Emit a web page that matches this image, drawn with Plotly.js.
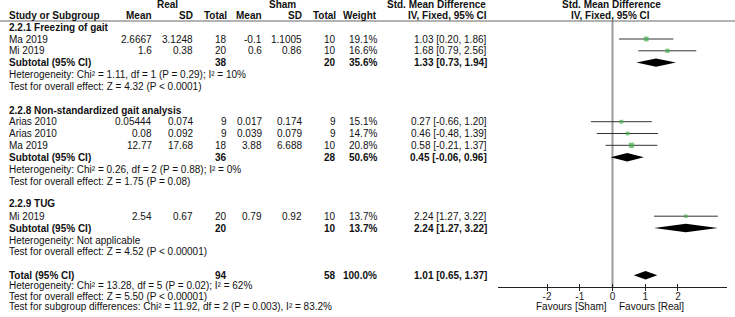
<!DOCTYPE html>
<html>
<head>
<meta charset="utf-8">
<script src="https://cdn.plot.ly/plotly-3.0.1.min.js"></script>
<style>html,body{margin:0;padding:0;background:#fff;}#chart{width:735px;height:317px;}</style>
</head>
<body>
<div id="chart"></div>
<script>
// ---------- DATA ----------
const groupNames = ["2.2.1 Freezing of gait", "2.2.8 Non-standardized gait analysis", "2.2.9 TUG"];
const studyNames = ["Ma 2019", "Mi 2019", "Arias 2010", "Arias 2010", "Ma 2019", "Mi 2019"];
const studyGroup = [0, 0, 1, 1, 1, 2];
const realMean = ["2.6667", "1.6", "0.05444", "0.08", "12.77", "2.54"];
const realSD = ["3.1248", "0.38", "0.074", "0.092", "17.68", "0.67"];
const realTotal = [18, 20, 9, 9, 18, 20];
const shamMean = ["-0.1", "0.6", "0.017", "0.039", "3.88", "0.79"];
const shamSD = ["1.1005", "0.86", "0.174", "0.079", "6.688", "0.92"];
const shamTotal = [10, 10, 9, 9, 10, 10];
const studyWeight = [19.1, 16.6, 15.1, 14.7, 20.8, 13.7];
const studySMD = [1.03, 1.68, 0.27, 0.46, 0.58, 2.24];
const studyLo = [0.20, 0.79, -0.66, -0.48, -0.21, 1.27];
const studyHi = [1.86, 2.56, 1.20, 1.39, 1.37, 3.22];

const subRealTotal = [38, 36, 20];
const subShamTotal = [20, 28, 10];
const subWeight = [35.6, 50.6, 13.7];
const subSMD = [1.33, 0.45, 2.24];
const subLo = [0.73, -0.06, 1.27];
const subHi = [1.94, 0.96, 3.22];
const subHet = [
  "Heterogeneity: Chi² = 1.11, df = 1 (P = 0.29); I² = 10%",
  "Heterogeneity: Chi² = 0.26, df = 2 (P = 0.88); I² = 0%",
  "Heterogeneity: Not applicable"
];
const subTest = [
  "Test for overall effect: Z = 4.32 (P < 0.0001)",
  "Test for overall effect: Z = 1.75 (P = 0.08)",
  "Test for overall effect: Z = 4.52 (P < 0.00001)"
];

const totalReal = 94;
const totalSham = 58;
const totalWeight = 100.0;
const totalSMD = 1.01;
const totalLo = 0.65;
const totalHi = 1.37;
const totalNotes = [
  "Heterogeneity: Chi² = 13.28, df = 5 (P = 0.02); I² = 62%",
  "Test for overall effect: Z = 5.50 (P < 0.00001)",
  "Test for subgroup differences: Chi² = 11.92, df = 2 (P = 0.003), I² = 83.2%"
];

const axisTicks = [-2, -1, 0, 1, 2];
const axisTickText = ["-2", "-1", "0", "1", "2"];
const favoursLeft = "Favours [Sham]";
const favoursRight = "Favours [Real]";

// ---------- LAYOUT (pixel rows / columns) ----------
const rowY = [27.2, 39, 50.8, 62.6, 74.5, 86, 98, 110, 121.7, 133.5, 145.3, 157.2, 169.5, 181, 192,
              203, 216.2, 228, 240, 251.7, 263, 275.3, 285.5, 296, 306.5];
const col = {name: 8, rMean: 153, rSD: 194, rTot: 228, sMean: 263, sSD: 303, sTot: 337, wt: 378, ci: 488};
const halfDiamond = 4.2;

const annotations = [];
function ann(text, x, y, anchor, bold, extra) {
  const a = {text: bold ? "<b>" + text + "</b>" : text, x: x, y: y, xref: "x", yref: "y",
             xanchor: anchor, yanchor: "middle", showarrow: false, borderpad: 0};
  Object.assign(a, extra || {});
  annotations.push(a);
}
const fmtCI = (e, l, h) => e.toFixed(2) + " [" + l.toFixed(2) + ", " + h.toFixed(2) + "]";

// headers
ann("Real", 167, 4, "center", true);
ann("Sham", 282, 4, "center", true);
ann("Std. Mean Difference", 487, 4, "right", true);
ann("Std. Mean Difference", 611.5, 4, "center", true);
ann("Study or Subgroup", col.name, 15, "left", true);
ann("Mean", col.rMean, 15, "right", true);
ann("SD", col.rSD, 15, "right", true);
ann("Total", col.rTot, 15, "right", true);
ann("Mean", col.sMean, 15, "right", true);
ann("SD", col.sSD, 15, "right", true);
ann("Total", col.sTot, 15, "right", true);
ann("Weight", col.wt, 15, "right", true);
ann("IV, Fixed, 95% CI", col.ci, 15, "right", true);
ann("IV, Fixed, 95% CI", 610, 15, "center", true);

const traces = [];
let row = 0;
const ciX = [], ciY = [], sqX = [], sqY = [], sqS = [];
groupNames.forEach((g, gi) => {
  ann(g, col.name, rowY[row], "left", true);
  row++;
  studyNames.forEach((s, i) => {
    if (studyGroup[i] !== gi) return;
    const y = rowY[row];
    ann(s, col.name, y, "left");
    ann(realMean[i], col.rMean, y, "right");
    ann(realSD[i], col.rSD, y, "right");
    ann(String(realTotal[i]), col.rTot, y, "right");
    ann(shamMean[i], col.sMean, y, "right");
    ann(shamSD[i], col.sSD, y, "right");
    ann(String(shamTotal[i]), col.sTot, y, "right");
    ann(studyWeight[i].toFixed(1) + "%", col.wt, y, "right");
    ann(fmtCI(studySMD[i], studyLo[i], studyHi[i]), col.ci, y, "right");
    ciX.push(studyLo[i], studyHi[i], null);
    ciY.push(y, y, null);
    sqX.push(studySMD[i]); sqY.push(y); sqS.push(studyWeight[i] / 4);
    row++;
  });
  const y = rowY[row];
  ann("Subtotal (95% CI)", col.name, y, "left", true);
  ann(String(subRealTotal[gi]), col.rTot, y, "right", true);
  ann(String(subShamTotal[gi]), col.sTot, y, "right", true);
  ann(subWeight[gi].toFixed(1) + "%", col.wt, y, "right", true);
  ann(fmtCI(subSMD[gi], subLo[gi], subHi[gi]), col.ci, y, "right", true);
  traces.push({type: "scatter", mode: "lines", xaxis: "x2", yaxis: "y",
    x: [subLo[gi], subSMD[gi], subHi[gi], subSMD[gi], subLo[gi]],
    y: [y, y - halfDiamond, y, y + halfDiamond, y],
    fill: "toself", fillcolor: "#000", line: {width: 0, color: "#000"}, hoverinfo: "skip"});
  row++;
  ann(subHet[gi], col.name, rowY[row], "left"); row++;
  ann(subTest[gi], col.name, rowY[row], "left"); row++;
  row++; // blank
});
// total
{
  const y = rowY[row];
  ann("Total (95% CI)", col.name, y, "left", true);
  ann(String(totalReal), col.rTot, y, "right", true);
  ann(String(totalSham), col.sTot, y, "right", true);
  ann(totalWeight.toFixed(1) + "%", col.wt, y, "right", true);
  ann(fmtCI(totalSMD, totalLo, totalHi), col.ci, y, "right", true);
  traces.push({type: "scatter", mode: "lines", xaxis: "x2", yaxis: "y",
    x: [totalLo, totalSMD, totalHi, totalSMD, totalLo],
    y: [y, y - halfDiamond, y, y + halfDiamond, y],
    fill: "toself", fillcolor: "#000", line: {width: 0, color: "#000"}, hoverinfo: "skip"});
  row++;
  totalNotes.forEach(t => { ann(t, col.name, rowY[row], "left"); row++; });
}

traces.unshift({type: "scatter", mode: "lines", xaxis: "x2", yaxis: "y", x: ciX, y: ciY,
  line: {color: "#333", width: 1}, hoverinfo: "skip"});
traces.push({type: "scatter", mode: "markers", xaxis: "x2", yaxis: "y", x: sqX, y: sqY,
  marker: {symbol: "square", size: sqS, color: "#3fae49", line: {width: 0}}, hoverinfo: "skip"});
// dummy for the downward half of the crossing ticks
traces.push({type: "scatter", mode: "markers", xaxis: "x3", yaxis: "y", x: [0], y: [-100],
  marker: {size: 1, opacity: 0}, hoverinfo: "skip"});

// favours labels (under the axis, on each side of zero)
annotations.push({text: favoursLeft, x: 0, y: 306.5, xref: "x2", yref: "y", xanchor: "right",
  yanchor: "middle", xshift: -5, showarrow: false, borderpad: 0});
annotations.push({text: favoursRight, x: 0, y: 306.5, xref: "x2", yref: "y", xanchor: "left",
  yanchor: "middle", xshift: 5, showarrow: false, borderpad: 0});

const axPos = 1 - 287 / 317;
const fDomain = [498 / 735, 727 / 735];
const layout = {
  width: 735, height: 317,
  margin: {l: 0, r: 0, t: 0, b: 0, pad: 0},
  paper_bgcolor: "#fff", plot_bgcolor: "rgba(0,0,0,0)",
  showlegend: false,
  font: {family: "Liberation Sans, Arial, sans-serif", size: 10, color: "#111"},
  xaxis: {range: [0, 735], domain: [0, 1], visible: false, fixedrange: true},
  yaxis: {range: [317, 0], domain: [0, 1], visible: false, fixedrange: true},
  xaxis2: {range: [-3.5, 3.5], domain: fDomain, anchor: "free", position: axPos,
    showline: true, linecolor: "#222", linewidth: 1, showgrid: false, zeroline: false,
    ticks: "inside", ticklen: 3, tickcolor: "#222", tickwidth: 1,
    tickmode: "array", tickvals: axisTicks, ticktext: axisTickText,
    tickfont: {size: 10, color: "#222"}, fixedrange: true},
  xaxis3: {range: [-3.5, 3.5], overlaying: "x2", anchor: "free", position: axPos,
    showline: false, showgrid: false, zeroline: false, ticks: "outside", ticklen: 3,
    tickcolor: "#222", tickwidth: 1, tickmode: "array", tickvals: axisTicks,
    showticklabels: false, fixedrange: true},
  shapes: [
    {type: "line", xref: "paper", yref: "y", x0: 0, x1: 1, y0: 21, y1: 21,
     line: {color: "#666", width: 1}},
    {type: "line", xref: "x2", yref: "y", x0: 0, x1: 0, y0: 21, y1: 287,
     line: {color: "#999", width: 2}, layer: "below"}
  ],
  annotations: annotations
};
Plotly.newPlot("chart", traces, layout, {staticPlot: true, displayModeBar: false});
</script>
</body>
</html>
